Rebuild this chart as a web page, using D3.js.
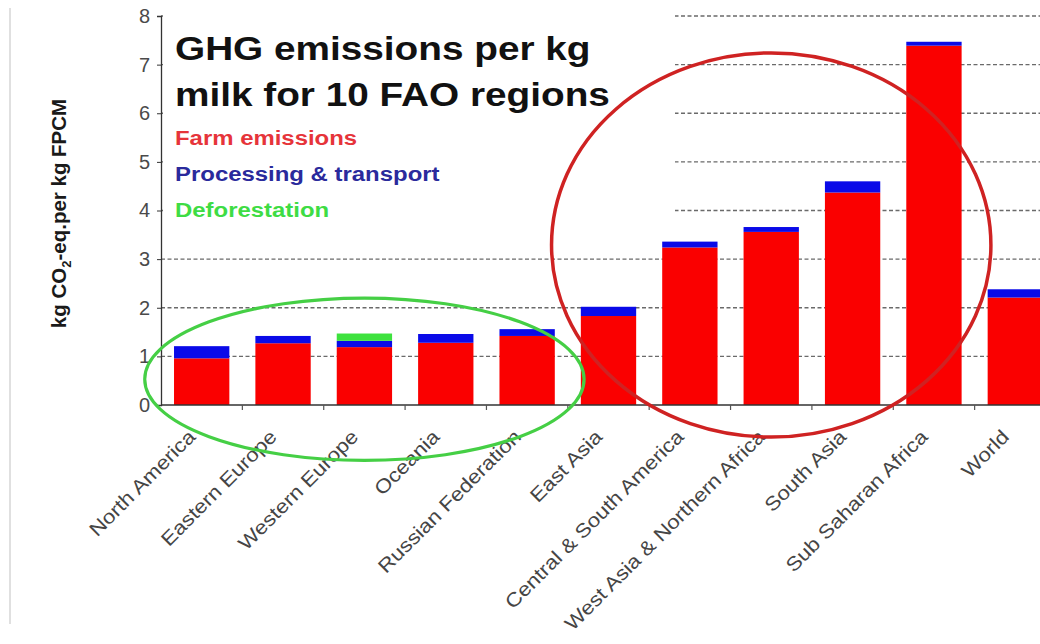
<!DOCTYPE html>
<html>
<head>
<meta charset="utf-8">
<script src="https://cdn.jsdelivr.net/npm/d3@7/dist/d3.min.js"></script>
<style>
  html, body { margin: 0; padding: 0; background: #fff; }
  svg { display: block; font-family: "Liberation Sans", Arial, sans-serif; }
</style>
</head>
<body>
<svg id="chart" width="1040" height="644"></svg>
<script>
// ---- data ----
const categories = ["North America", "Eastern Europe", "Western Europe", "Oceania", "Russian Federation",
  "East Asia", "Central & South America", "West Asia & Northern Africa", "South Asia", "Sub Saharan Africa", "World"];
const farmEmissions = [0.96, 1.27, 1.19, 1.28, 1.42, 1.83, 3.24, 3.56, 4.37, 7.39, 2.21];
const processingTransport = [0.25, 0.15, 0.13, 0.18, 0.14, 0.19, 0.12, 0.10, 0.23, 0.08, 0.17];
const deforestation = [0, 0, 0.15, 0, 0, 0, 0, 0, 0, 0, 0];
const yTicks = [0, 1, 2, 3, 4, 5, 6, 7, 8];
const seriesNames = ["Farm emissions", "Processing & transport", "Deforestation"];
const titleLines = ["GHG emissions per kg", "milk for 10 FAO regions"];
// highlighted groups: [first category index, last category index, centre value, half-height in value units]
const highlightGreen = [0, 4, 0.53, 1.67];
const highlightRed = [5, 9, 3.29, 3.95];

// ---- layout ----
const W = 1040, H = 644;
const svg = d3.select("#chart");
const x = d3.scaleBand().domain(categories).range([161, 1056]).paddingInner(0.32).paddingOuter(0.16);
const y = d3.scaleLinear().domain([0, 8]).range([405, 16]);
const stretch = 1.14;

const colors = { farm: "#fa0000", proc: "#0a0ae8", def: "#3ee23e" };

// left border
svg.append("line").attr("x1", 10).attr("x2", 10).attr("y1", 8).attr("y2", 624)
  .attr("stroke", "#d6d6d6").attr("stroke-width", 1.5);

// gridlines
svg.append("g").selectAll("line").data(yTicks.filter(d => d > 0)).join("line")
  .attr("x1", x.range()[0]).attr("x2", W)
  .attr("y1", d => y(d)).attr("y2", d => y(d))
  .attr("stroke", "#6a6a6a").attr("stroke-width", 1.3).attr("stroke-dasharray", "4,2.5");

// white title box covering gridlines
svg.append("rect").attr("x", x.range()[0] + 2).attr("y", 0).attr("width", 512).attr("height", 230).attr("fill", "#fff");

// stacked bars
const stackData = categories.map((c, i) => ({ cat: c, farm: farmEmissions[i], proc: processingTransport[i], def: deforestation[i] }));
const stack = d3.stack().keys(["farm", "proc", "def"])(stackData);
svg.append("g").selectAll("g").data(stack).join("g")
  .attr("fill", d => colors[d.key])
  .selectAll("rect").data(d => d).join("rect")
  .attr("x", d => x(d.data.cat))
  .attr("width", x.bandwidth())
  .attr("y", d => y(d[1]))
  .attr("height", d => Math.max(0, y(d[0]) - y(d[1])));

// y axis
const yAxis = svg.append("g").attr("transform", `translate(${x.range()[0]},0)`)
  .call(d3.axisLeft(y).tickValues(yTicks).tickSize(4).tickPadding(7).tickFormat(d3.format("d")));
yAxis.select(".domain").attr("stroke", "#333").attr("stroke-width", 1.3);
yAxis.selectAll(".tick line").attr("stroke", "#333");
yAxis.selectAll(".tick text").attr("fill", "#4a4a4a").attr("font-size", 20).attr("font-family", "Liberation Sans, Arial, sans-serif");

// x axis
const xAxisG = svg.append("g").attr("transform", `translate(0,${y(0)})`);
xAxisG.append("line").attr("x1", x.range()[0]).attr("x2", W).attr("stroke", "#333").attr("stroke-width", 1.3);
const step = x.step();
xAxisG.selectAll("line.tk").data(categories.slice(1)).join("line").attr("class", "tk")
  .attr("x1", d => x(d) - step * x.paddingInner() / 2).attr("x2", d => x(d) - step * x.paddingInner() / 2)
  .attr("y1", 0).attr("y2", 5).attr("stroke", "#555").attr("stroke-width", 1.2);

// category labels
svg.append("g").selectAll("text").data(categories).join("text")
  .attr("transform", d => `translate(${x(d) + x.bandwidth() / 2 - 5},${y(0) + 33}) rotate(-45) scale(${stretch},1)`)
  .attr("text-anchor", "end")
  .attr("font-size", 19.5)
  .attr("fill", "#454545")
  .text(d => d);

// y axis title
const yt = svg.append("text")
  .attr("transform", `translate(66,${(y(0) + y(8)) / 2 + 3}) rotate(-90)`)
  .attr("text-anchor", "middle").attr("font-weight", "bold").attr("font-size", 20.5).attr("fill", "#1a1a1a");
yt.append("tspan").text("kg CO");
yt.append("tspan").attr("font-size", 13).attr("dy", 5).text("2");
yt.append("tspan").attr("dy", -5).text("-eq.per kg FPCM");

// title
svg.append("g").selectAll("text").data(titleLines).join("text")
  .attr("transform", (d, i) => `translate(175,${60 + i * 46}) scale(${stretch},1)`)
  .attr("font-size", 34).attr("font-weight", "bold").attr("fill", "#111")
  .text(d => d);

// legend texts
const legendColors = ["#e6343a", "#2a2a9c", "#3edc44"];
svg.append("g").selectAll("text").data(seriesNames).join("text")
  .attr("transform", (d, i) => `translate(175,${145 + i * 36}) scale(${stretch},1)`)
  .attr("font-size", 21).attr("font-weight", "bold")
  .attr("fill", (d, i) => legendColors[i])
  .text(d => d);

// highlight ellipses
function ellipse(h, color, width) {
  const cx0 = x(categories[h[0]]) + x.bandwidth() / 2;
  const cx1 = x(categories[h[1]]) + x.bandwidth() / 2;
  const pad = step * 0.7;
  svg.append("ellipse")
    .attr("cx", (cx0 + cx1) / 2)
    .attr("cy", y(h[2]))
    .attr("rx", (cx1 - cx0) / 2 + pad)
    .attr("ry", y(0) - y(h[3]))
    .attr("fill", "none").attr("stroke", color).attr("stroke-width", width);
}
ellipse(highlightGreen, "#45cf45", 3.2);
ellipse(highlightRed, "#cf2222", 3.5);
</script>
</body>
</html>
